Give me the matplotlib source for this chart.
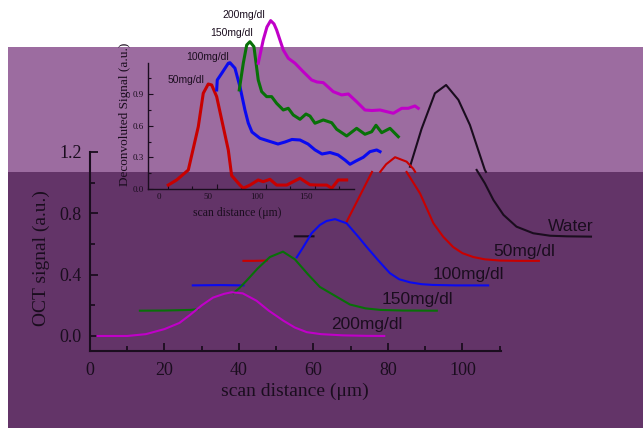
import numpy as np
import matplotlib.pyplot as plt
import matplotlib.transforms as mtransforms
from matplotlib.patches import Rectangle
from matplotlib.ticker import MultipleLocator

nan = np.nan

# ---- main plot: OCT signal vs scan distance (um) ----
mag_x = [2, 10, 15, 20, 24, 27, 30, 33, 36, 38, 41, 44.7, 48, 51.9, 55, 58.2, 62, 68, 74, 79]
mag_y = [0, 0, 0.012, 0.045, 0.085, 0.14, 0.2, 0.25, 0.275, 0.285, 0.278, 0.23, 0.165, 0.1, 0.055, 0.025, 0.012, 0.004, 0.001, 0]

grn_x = [13.4, 20, 27, 29, nan, 38.5, 40, 42, 45, 48.3, 51.8, 55, 58.6, 61.7, 66.2, 69.8, 74, 78, 84, 93.1]
grn_y = [0.165, 0.166, 0.17, 0.175, nan, 0.28, 0.31, 0.36, 0.44, 0.515, 0.55, 0.50, 0.40, 0.32, 0.256, 0.205, 0.18, 0.17, 0.166, 0.165]

blu_x = [27.6, 35, 41.2, nan, 55.5, 57, 59.5, 61.7, 63.5, 65.8, 68.9, 72, 74.3, 77.5, 80.5, 83, 85.9, 89, 92, 98, 106.9]
blu_y = [0.33, 0.332, 0.33, nan, 0.513, 0.57, 0.67, 0.724, 0.75, 0.762, 0.735, 0.648, 0.58, 0.49, 0.41, 0.37, 0.35, 0.338, 0.333, 0.33, 0.33]

red_x = [41.2, 44, 47.5, nan, 68.9, 72, 75.7, nan, 77.9, 79.5, 81.9, 85, 86.8, 87.3, nan,
         85, 88.6, 92.2, 94.8, 97.5, 100, 102.9, 106, 110, 115, 120.5]
red_y = [0.49, 0.49, 0.492, nan, 0.745, 0.893, 1.07, nan, 1.07, 1.12, 1.166, 1.137, 1.09, 1.07, nan,
         1.07, 0.93, 0.735, 0.648, 0.58, 0.54, 0.515, 0.5, 0.492, 0.49, 0.49]

wat_x = [55, 58, 60, nan, 85.9, 89, 92.6, 95.6, 98.9, 102, 106, 106.3, nan,
         103.8, 106, 108.3, 111, 114.5, 119, 123.5, 128, 134.5]
wat_y = [0.65, 0.65, 0.65, nan, 1.104, 1.35, 1.583, 1.637, 1.54, 1.376, 1.083, 1.07, nan,
         1.083, 0.996, 0.887, 0.79, 0.713, 0.67, 0.654, 0.65, 0.648]

main_labels = ["Water", "50mg/dl", "100mg/dl", "150mg/dl", "200mg/dl"]
main_lab_x = [122.9, 108.3, 92.0, 78.3, 64.7]
main_lab_y = [0.711, 0.554, 0.398, 0.235, 0.076]

# ---- inset: deconvoluted signal ----
i_red_x = [0.4, 9.0, 20.9, 31.1, 36.2, 41.3, 44.8, 49.9, 56.6, 61.8, 65.2, 73.7, 77.1, 84, 92.4, 97.5,
           104.4, 111.2, 121.5, 128.2, 135.1, 145.3, 153.5, 162.4, 167.5, 174.2, 182.8]
i_red_y = [0.04, 0.088, 0.182, 0.59, 0.906, 0.993, 0.984, 0.874, 0.59, 0.37, 0.13, 0.04, 0.01, 0.04, 0.088, 0.072,
           0.094, 0.04, 0.04, 0.072, 0.104, 0.043, 0.04, 0.04, 0.01, 0.088, 0.088]

i_blu_x = [49.9, 50.5, 55.3, 61.8, 63.5, 68.6, 73.7, 78.8, 82.2, 86.0, 94.2, 104.4, 112.6, 119.7, 126.9, 135.1,
           143.3, 150.4, 157.6, 165.8, 174.0, 181.1, 186.2, 192.3, 199.8, 206.6, 213.5, 216.9]
i_blu_y = [0.937, 1.031, 1.097, 1.189, 1.194, 1.142, 0.968, 0.748, 0.625, 0.54, 0.481, 0.451, 0.427, 0.446, 0.47, 0.465,
           0.427, 0.372, 0.333, 0.347, 0.324, 0.276, 0.236, 0.267, 0.302, 0.355, 0.371, 0.355]

i_grn_x = [73.0, 77.1, 80.6, 83.9, 88.0, 92.4, 95.9, 101.0, 106.1, 111.2, 118.0, 123.1, 128.2, 135.1, 141.2, 145.3,
           150.4, 158.9, 167.5, 172.6, 182.8, 193.0, 201.5, 208.4, 212.8, 218.6, 227.1, 235.6]
i_grn_y = [0.937, 1.189, 1.361, 1.392, 1.345, 1.031, 0.921, 0.874, 0.874, 0.811, 0.748, 0.764, 0.701, 0.66, 0.71, 0.691,
           0.623, 0.654, 0.628, 0.566, 0.503, 0.575, 0.519, 0.543, 0.604, 0.534, 0.575, 0.496]

i_mag_x = [92.4, 97.5, 101.3, 105.1, 108.5, 111.2, 118.0, 123.1, 130.0, 138.4, 147.0, 152.5, 158.9, 169.1, 177.7,
           184.5, 193.0, 201.5, 208.7, 216.9, 223.0, 230.5, 239.1, 245.8, 252.6, 256.0]
i_mag_y = [1.189, 1.408, 1.531, 1.591, 1.56, 1.503, 1.314, 1.236, 1.189, 1.109, 1.031, 1.012, 1.006, 0.921, 0.89,
           0.899, 0.826, 0.748, 0.743, 0.748, 0.734, 0.717, 0.764, 0.764, 0.786, 0.764]

inset_labels = ["50mg/dl", "100mg/dl", "150mg/dl", "200mg/dl"]
inset_lab_x = [0.1, 19.2, 43.8, 56.3]
inset_lab_y = [1.031, 1.245, 1.472, 1.644]

ink = '#1a0d1e'
c_red, c_blu, c_grn, c_mag = '#c80000', '#0a0af0', '#087008', '#c000c8'
serif = 'Liberation Serif'
sans = 'Liberation Sans'

fig = plt.figure(figsize=(6.43, 4.28), dpi=100)
W, H = 643, 428

# purple background bands
fig.patches.append(Rectangle((8 / W, (H - 172) / H), 1 - 8 / W, 125 / H, transform=fig.transFigure,
                             facecolor='#9c6ca0', edgecolor='none', zorder=-5))
fig.patches.append(Rectangle((8 / W, 0), 1 - 8 / W, (H - 172) / H, transform=fig.transFigure,
                             facecolor='#633468', edgecolor='none', zorder=-5))

# main axes
ax = fig.add_axes([90 / W, (H - 350.7) / H, 411 / W, 198.7 / H])
ax.set_facecolor('none')
ax.plot(wat_x, wat_y, color=ink, lw=1.5, clip_on=False)
ax.plot(red_x, red_y, color=c_red, lw=1.5, clip_on=False)
ax.plot(blu_x, blu_y, color=c_blu, lw=1.5, clip_on=False)
ax.plot(grn_x, grn_y, color=c_grn, lw=1.5, clip_on=False)
ax.plot(mag_x, mag_y, color=c_mag, lw=1.5, clip_on=False)
for t, x, y in zip(main_labels, main_lab_x, main_lab_y):
    ax.text(x, y, t, fontsize=12.5, family=sans, color=ink, va='center', ha='left', clip_on=False)

ax.set_xlim(0, 110.34)
ax.set_ylim(-0.096, 1.2)
ax.xaxis.set_major_locator(MultipleLocator(20))
ax.xaxis.set_minor_locator(MultipleLocator(10))
ax.yaxis.set_minor_locator(MultipleLocator(0.2))
ax.set_yticks([0.0, 0.4, 0.8, 1.2])
ax.set_yticklabels(['0.0', '0.4', '0.8', '1.2'])
for s in ['top', 'right']:
    ax.spines[s].set_visible(False)
for s in ['left', 'bottom']:
    ax.spines[s].set_color(ink)
    ax.spines[s].set_linewidth(1.5)
ax.tick_params(which='both', direction='in', color=ink, width=1.3, labelcolor=ink)
ax.tick_params(which='major', length=6, labelsize=13)
ax.tick_params(which='minor', length=3.5)
ax.tick_params(axis='x', pad=8)
ax.tick_params(axis='y', pad=6)
for lab in ax.get_xticklabels() + ax.get_yticklabels():
    lab.set_family(serif)
ax.set_xlabel('scan distance (μm)', fontsize=14, family=serif, color=ink, va='center')
ax.set_ylabel('OCT signal (a.u.)', fontsize=14, family=serif, color=ink, va='center')
ax.xaxis.set_label_coords(0.4976, -0.206)
ax.yaxis.set_label_coords(-0.1175, 0.4665)

# inset axes
ins = fig.add_axes([148.3 / W, (H - 189.3) / H, 205.4 / W, 126.6 / H])
ins.set_facecolor('none')
ins.plot(i_red_x, i_red_y, color=c_red, lw=2.2, clip_on=False)
ins.plot(i_blu_x, i_blu_y, color=c_blu, lw=2.2, clip_on=False)
ins.plot(i_grn_x, i_grn_y, color=c_grn, lw=2.2, clip_on=False)
ins.plot(i_mag_x, i_mag_y, color=c_mag, lw=2.2, clip_on=False)
for t, x, y in zip(inset_labels, inset_lab_x, inset_lab_y):
    ins.text(x, y, t, fontsize=7.5, family=sans, color=ink, va='center', ha='left', clip_on=False)

ins.set_xlim(-20, 190)
ins.set_ylim(0, 1.194)
ins.set_xticks([0, 50, 100, 150])
ins.xaxis.set_minor_locator(MultipleLocator(25))
ins.set_yticks([0.0, 0.3, 0.6, 0.9])
ins.yaxis.set_minor_locator(MultipleLocator(0.15))
for s in ['top', 'right']:
    ins.spines[s].set_visible(False)
for s in ['left', 'bottom']:
    ins.spines[s].set_color(ink)
    ins.spines[s].set_linewidth(1.0)
ins.tick_params(which='both', direction='in', color=ink, width=0.8, labelcolor=ink)
ins.tick_params(which='major', length=3.5, labelsize=6.5, pad=3)
ins.tick_params(which='minor', length=2)
# the lower strip of the inset sits a few pixels further left in the source image
shift = mtransforms.ScaledTranslation(-8.5 / 100, 0, fig.dpi_scale_trans)
for lab in ins.get_xticklabels():
    lab.set_family(serif)
    lab.set_transform(lab.get_transform() + shift)
for lab in ins.get_yticklabels():
    lab.set_family(serif)
ins.set_xlabel('scan distance (μm)', fontsize=8.5, family=serif, color=ink, va='center')
ins.set_ylabel('Deconvoluted Signal (a.u.)', fontsize=9.5, family=serif, color=ink, va='center')
ins.xaxis.set_label_coords(0.432, -0.19)
ins.yaxis.set_label_coords(-0.1134, 0.595)

fig.savefig('out.png', dpi=100, facecolor='white')
